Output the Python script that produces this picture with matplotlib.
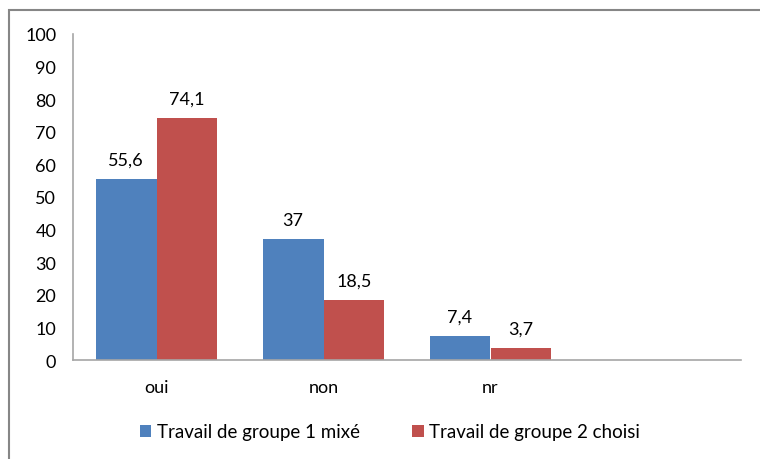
import matplotlib
matplotlib.use("Agg")
import matplotlib.pyplot as plt
from matplotlib.patches import Rectangle
import numpy as np

categories = ["oui", "non", "nr", ""]
series1_name = "Travail de groupe 1 mixé"
series2_name = "Travail de groupe 2 choisi"
series1 = [55.6, 37, 7.4, None]
series2 = [74.1, 18.5, 3.7, None]
labels1 = ["55,6", "37", "7,4", ""]
labels2 = ["74,1", "18,5", "3,7", ""]
yticks = list(range(0, 101, 10))

plt.rcParams['font.family'] = ['Lato', 'DejaVu Sans']
FS = 13

W, H = 760, 460
fig = plt.figure(figsize=(W / 100, H / 100), dpi=100)
fig.patch.set_facecolor("white")

# outer chart border (top and left visible, extends past right/bottom)
fig.add_artist(Rectangle((8.5 / W, -0.1), 1.2, 1 - 10.5 / H + 0.1,
                         transform=fig.transFigure, fill=False,
                         edgecolor="#868686", linewidth=1.5))

ax = fig.add_axes([73 / W, 1 - 361 / H, (741 - 73) / W, (361 - 35) / H])

blue = "#4F81BD"
red = "#C0504D"
bw = 0.365
x = np.arange(len(categories))
v1 = [v if v is not None else 0 for v in series1]
v2 = [v if v is not None else 0 for v in series2]
b1 = ax.bar(x - bw / 2, v1, bw, color=blue, label=series1_name)
b2 = ax.bar(x + bw / 2, v2, bw, color=red, label=series2_name)

for xi, v, t in zip(x - bw / 2, v1, labels1):
    if t:
        ax.text(xi, v + 3.5, t, ha="center", va="bottom", fontsize=FS, color="#000000")
for xi, v, t in zip(x + bw / 2, v2, labels2):
    if t:
        ax.text(xi, v + 3.5, t, ha="center", va="bottom", fontsize=FS, color="#000000")

ax.set_xlim(-0.5, len(categories) - 0.5)
ax.set_ylim(0, 100)
ax.set_yticks(yticks)
ax.set_yticklabels([str(t) for t in yticks], fontsize=FS)
ax.set_xticks(x)
ax.set_xticklabels(categories, fontsize=FS)
ax.tick_params(axis="both", length=0, colors="#000000")
ax.tick_params(axis="y", pad=12)
ax.tick_params(axis="x", pad=14)

for s in ["top", "right"]:
    ax.spines[s].set_visible(False)
for s in ["left", "bottom"]:
    ax.spines[s].set_color("#A6A6A6")
    ax.spines[s].set_linewidth(1.2)

leg = fig.legend(handles=[b1, b2], loc="center", bbox_to_anchor=(390 / W, 1 - 433 / H),
                 ncol=2, frameon=False, fontsize=13.5, handlelength=0.6, handleheight=0.6,
                 handletextpad=0.3, columnspacing=2.8)

fig.savefig("out.png", dpi=100, facecolor="white")
